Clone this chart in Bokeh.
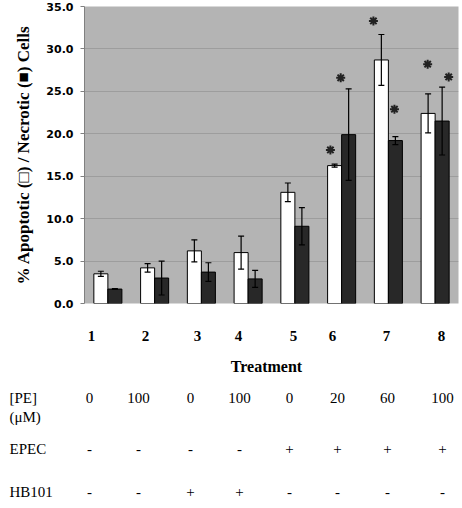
import numpy as np
from bokeh.plotting import figure
from bokeh.models import (ColumnDataSource, Range1d, FixedTicker, PrintfTickFormatter,
                          Whisker, TeeHead)
from bokeh.core.properties import value
from bokeh.embed import file_html
from bokeh.resources import INLINE

# ---------------- data ----------------
treatments = [1, 2, 3, 4, 5, 6, 7, 8]
treatment_labels = ["1", "2", "3", "4", "5", "6", "7", "8"]
apoptotic = [3.5, 4.2, 6.2, 6.0, 13.1, 16.25, 28.7, 22.4]
apoptotic_err = [0.3, 0.5, 1.3, 1.95, 1.1, 0.18, 3.0, 2.3]
necrotic = [1.7, 3.0, 3.7, 2.9, 9.1, 19.9, 19.2, 21.5]
necrotic_err = [0.05, 2.0, 1.1, 1.0, 2.2, 5.4, 0.47, 4.0]
star_x = [5.76, 5.98, 6.68, 7.13, 7.84, 8.29]
star_y = [18.1, 26.6, 33.3, 22.9, 28.2, 26.7]
y_ticks = [0, 5, 10, 15, 20, 25, 30, 35]
row_names = ["[PE]", "(\u03bcM)", "EPEC", "HB101"]
pe_conc = ["0", "100", "0", "100", "0", "20", "60", "100"]
epec = ["-", "-", "-", "-", "+", "+", "+", "+"]
hb101 = ["-", "-", "+", "+", "-", "-", "-", "-"]

# ---------------- layout constants (pixels) ----------------
FIG_W = 460
FL, FR, FT, FB = 84, 458, 6, 303          # chart frame edges
CHART_PAD_B = 8                            # room for the "0.0" label
TABLE_TOP = FB + CHART_PAD_B
TABLE_H = 192
BAR_W = 0.3
num_cols = [91, 145, 197, 238, 293, 332, 386, 441]
tab_cols = [89, 138, 190, 239, 289, 337, 387, 442]
name_col = 9
num_row, title_row = 335, 366
name_rows = [397, 416, 448, 491]
pe_row, epec_row, hb_row = 397, 448, 491
SERIF = value("Liberation Serif")

x = np.array(treatments, dtype=float)
a = np.array(apoptotic); ae = np.array(apoptotic_err)
n = np.array(necrotic); ne = np.array(necrotic_err)

src_a = ColumnDataSource(dict(x=x - BAR_W / 2, top=a, lo=a - ae, hi=a + ae))
src_n = ColumnDataSource(dict(x=x + BAR_W / 2, top=n, lo=n - ne, hi=n + ne))

p = figure(width=FIG_W, height=TABLE_TOP, x_range=Range1d(0.5, 8.5), y_range=Range1d(0, 35),
           output_backend="svg", toolbar_location=None,
           min_border_left=FL, min_border_right=FIG_W - FR,
           min_border_top=FT, min_border_bottom=CHART_PAD_B)
p.background_fill_color = "#b4b4b4"
p.border_fill_color = "white"
p.outline_line_color = None
p.xaxis.visible = False
p.xgrid.visible = False
p.ygrid.grid_line_color = "#9d9d9d"
p.ygrid.grid_line_width = 1

yax = p.yaxis[0]
yax.ticker = FixedTicker(ticks=y_ticks)
yax.formatter = PrintfTickFormatter(format="%.1f")
yax.major_label_text_font = "DejaVu Sans"
yax.major_label_text_font_style = "bold"
yax.major_label_text_font_size = "11px"
yax.major_label_text_color = "black"
yax.major_label_standoff = 7
yax.major_tick_in = 0
yax.major_tick_out = 4
yax.minor_tick_line_color = None
yax.major_tick_line_color = "#808080"
yax.axis_line_color = "#808080"
yax.axis_label = "% Apoptotic (\u25a1) / Necrotic (\u25a0) Cells"
yax.axis_label_text_font = "Liberation Serif"
yax.axis_label_text_font_style = "bold"
yax.axis_label_text_font_size = "17px"
yax.axis_label_text_color = "black"
yax.axis_label_standoff = 10

p.vbar(x="x", top="top", bottom=0, width=BAR_W, source=src_a,
       fill_color="white", line_color="black", line_width=1)
p.vbar(x="x", top="top", bottom=0, width=BAR_W, source=src_n,
       fill_color="#282828", line_color="black", line_width=1)

for src in (src_a, src_n):
    p.add_layout(Whisker(source=src, base="x", lower="lo", upper="hi", level="annotation",
                         line_color="black", line_width=1.2,
                         upper_head=TeeHead(size=6, line_color="black", line_width=1.2),
                         lower_head=TeeHead(size=6, line_color="black", line_width=1.2)))

p.scatter(x=star_x, y=star_y, marker="asterisk", size=9, line_width=2, line_color="#222222")

# ---------------- table below the chart (second figure, pixel coordinates) ----------------
t = figure(width=FIG_W, height=TABLE_H, x_range=Range1d(0, FIG_W),
           y_range=Range1d(TABLE_TOP + TABLE_H, TABLE_TOP), output_backend="svg",
           toolbar_location=None,
           min_border_left=0, min_border_right=0, min_border_top=0, min_border_bottom=0)
t.xaxis.visible = False
t.yaxis.visible = False
t.grid.visible = False
t.outline_line_color = None
t.background_fill_color = "white"
t.border_fill_color = "white"


def add_texts(xs, ys, texts, align="center", style="normal", size="15px"):
    t.text(x=list(xs), y=list(ys), text=list(texts), text_font=SERIF,
           text_font_style=style, text_font_size=size, text_align=align,
           text_baseline="middle", text_color="black")


add_texts(num_cols, [num_row] * 8, treatment_labels, style="bold")
add_texts([266], [title_row], ["Treatment"], style="bold", size="16px")
add_texts([name_col] * 4, name_rows, row_names, align="left")
add_texts(tab_cols, [pe_row] * 8, pe_conc)
add_texts(tab_cols, [epec_row] * 8, epec)
add_texts(tab_cols, [hb_row] * 8, hb101)

open("out.html", "w").write(file_html([p, t], INLINE))
